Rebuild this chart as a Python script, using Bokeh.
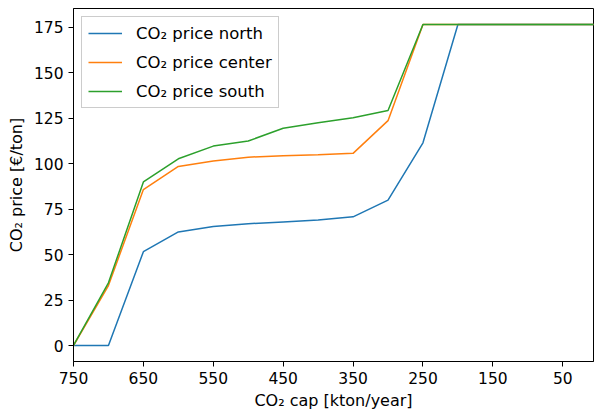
from bokeh.plotting import figure
from bokeh.models import Range1d, FixedTicker, Legend, LegendItem
from bokeh.embed import file_html
from bokeh.resources import INLINE

cap = [750, 700, 650, 600, 550, 500, 450, 400, 350, 300, 250, 200, 150, 100, 50, 0]
north = [0, 0, 51.6, 62.5, 65.5, 67.0, 68.0, 69.0, 70.8, 80.0, 111.5, 176.6, 176.6, 176.6, 176.6, 176.6]
center = [0, 33.0, 85.8, 98.5, 101.5, 103.6, 104.4, 105.0, 105.7, 123.7, 176.6, 176.6, 176.6, 176.6, 176.6, 176.6]
south = [0, 34.5, 90.0, 102.7, 109.7, 112.5, 119.5, 122.5, 125.3, 129.3, 176.6, 176.6, 176.6, 176.6, 176.6, 176.6]
x_ticks = [750, 650, 550, 450, 350, 250, 150, 50]
y_ticks = [0, 25, 50, 75, 100, 125, 150, 175]

p = figure(width=594, height=412, output_backend="svg", toolbar_location=None,
           x_range=Range1d(750, 6), y_range=Range1d(-8.8, 185.4),
           min_border_left=73, min_border_right=1, min_border_top=8, min_border_bottom=46)
p.outline_line_color = "black"
p.outline_line_width = 1
p.grid.visible = False
p.background_fill_color = "white"
p.border_fill_color = "white"

colors = ["#1f77b4", "#ff7f0e", "#2ca02c"]
names = ["CO₂ price north", "CO₂ price center", "CO₂ price south"]
renderers = []
for ys, c in zip([north, center, south], colors):
    renderers.append(p.line(cap, ys, line_color=c, line_width=1.5))

for ax in (p.xaxis[0], p.yaxis[0]):
    ax.major_label_text_font = "DejaVu Sans"
    ax.major_label_text_font_size = "15.5px"
    ax.major_label_text_color = "black"
    ax.axis_label_text_font = "DejaVu Sans"
    ax.axis_label_text_font_size = "16px"
    ax.axis_label_text_font_style = "normal"
    ax.axis_label_text_color = "black"
    ax.minor_tick_line_color = None
    ax.major_tick_out = 5
    ax.major_tick_in = 0
    ax.axis_line_color = "black"

p.xaxis[0].ticker = FixedTicker(ticks=x_ticks)
p.yaxis[0].ticker = FixedTicker(ticks=y_ticks)
p.xaxis[0].axis_label = "CO₂ cap [kton/year]"
p.yaxis[0].axis_label = "CO₂ price [€/ton]"
p.xaxis[0].axis_label_standoff = 4
p.yaxis[0].axis_label_standoff = 5

legend = Legend(items=[LegendItem(label=n, renderers=[r]) for n, r in zip(names, renderers)],
                location="top_left", label_text_font="DejaVu Sans", label_text_font_size="16.5px",
                label_text_color="black",
                border_line_color="#cccccc", border_line_alpha=1, background_fill_alpha=1,
                glyph_width=34, glyph_height=20, label_height=20, spacing=9,
                label_standoff=14, padding=6, margin=8)
p.add_layout(legend)

open("out.html", "w").write(file_html(p, INLINE))
